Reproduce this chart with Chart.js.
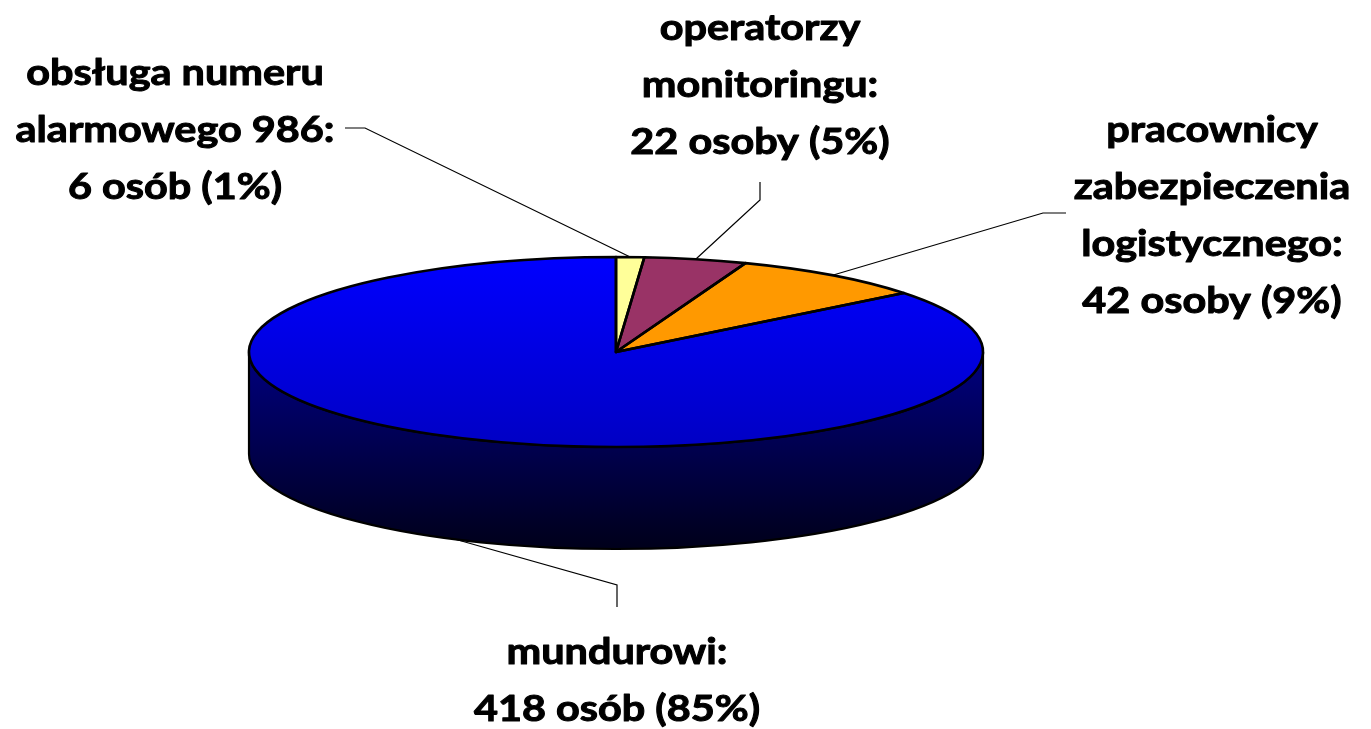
<!DOCTYPE html>
<html>
<head>
<meta charset="utf-8">
<script src="https://cdn.jsdelivr.net/npm/chart.js@4.4.0/dist/chart.umd.min.js"></script>
<style>
  body { margin: 0; background: #fff; }
  #wrap { width: 1371px; height: 729px; }
</style>
</head>
<body>
<div id="wrap"><canvas id="pieChart" width="1371" height="729"></canvas></div>
<script>
// data
const categories = ["obsługa numeru alarmowego 986", "operatorzy monitoringu", "pracownicy zabezpieczenia logistycznego", "mundurowi"];
const people = [6, 22, 42, 418];
const percents = [1, 5, 9, 85];
const units = ["osób", "osoby", "osoby", "osób"];
const nameLines = [
  ["obsługa numeru", "alarmowego 986:"],
  ["operatorzy", "monitoringu:"],
  ["pracownicy", "zabezpieczenia", "logistycznego:"],
  ["mundurowi:"],
];
const colors = ["#FFFF99", "#993366", "#FF9900", "#0000FF"];

// look of the fake 3d pie
const TILT = 95 / 367;
const DEPTH = 102;
const LINE_H = 57;
const TEXT_STRETCH = 1.15;

// where the labels sit (text centre, first line) and the leader elbow
const labelLayout = [
  { x: 175, y: 73, path: [[345, 128], [365, 128]] },
  { x: 760, y: 28, path: [[760, 182], [760, 200]] },
  { x: 1212, y: 130, path: [[1066, 213], [1043, 213]] },
  { x: 617, y: 652, path: [[617, 607], [617, 585]] },
];

function shadeSide(color, ctx, cy, ry) {
  const g = ctx.createLinearGradient(0, cy, 0, cy + ry + DEPTH);
  if (color === "#0000FF") {
    g.addColorStop(0, "#000080");
    g.addColorStop(1, "#00001a");
  } else {
    g.addColorStop(0, color);
    g.addColorStop(1, "#000000");
  }
  return g;
}

const pie3d = {
  id: "pie3d",
  beforeDatasetsDraw(chart) {
    const ctx = chart.ctx;
    const arcs = chart.getDatasetMeta(0).data;
    const { x: cx, y: cy, outerRadius: rx } = arcs[0];
    const ry = rx * TILT;

    // side wall, only the front half (angles 0..PI) is visible
    ctx.save();
    ctx.lineWidth = 2.2;
    ctx.strokeStyle = "#000";
    arcs.forEach((arc, i) => {
      const a0 = Math.max(arc.startAngle, 0);
      const a1 = Math.min(arc.endAngle, Math.PI);
      if (a1 <= a0) return;
      ctx.beginPath();
      ctx.ellipse(cx, cy, rx, ry, 0, a0, a1, false);
      ctx.ellipse(cx, cy + DEPTH, rx, ry, 0, a1, a0, true);
      ctx.closePath();
      ctx.fillStyle = shadeSide(colors[i], ctx, cy, ry);
      ctx.fill();
      ctx.stroke();
    });
    ctx.restore();

    // squash the pie itself
    ctx.save();
    ctx.translate(cx, cy);
    ctx.scale(1, TILT);
    ctx.translate(-cx, -cy);
  },
  afterDatasetsDraw(chart) {
    const ctx = chart.ctx;
    ctx.restore();

    const arcs = chart.getDatasetMeta(0).data;
    const { x: cx, y: cy, outerRadius: rx } = arcs[0];
    const ry = rx * TILT;

    // outlines of the top face
    ctx.save();
    ctx.lineWidth = 2.6;
    ctx.strokeStyle = "#000";
    ctx.lineJoin = "round";
    arcs.forEach((arc) => {
      ctx.beginPath();
      ctx.moveTo(cx, cy);
      ctx.ellipse(cx, cy, rx, ry, 0, arc.startAngle, arc.endAngle, false);
      ctx.closePath();
      ctx.stroke();
    });
    ctx.restore();
  },
  afterDraw(chart) {
    const ctx = chart.ctx;
    const arcs = chart.getDatasetMeta(0).data;
    const { x: cx, y: cy, outerRadius: rx } = arcs[0];
    const ry = rx * TILT;

    ctx.save();
    // leader lines
    ctx.strokeStyle = "#000";
    ctx.lineWidth = 1.2;
    arcs.forEach((arc, i) => {
      const mid = (arc.startAngle + arc.endAngle) / 2;
      const s = Math.sin(mid);
      const px = cx + rx * Math.cos(mid);
      const py = cy + ry * s + (s > 0 ? DEPTH : 0);
      const p = labelLayout[i].path;
      ctx.beginPath();
      ctx.moveTo(p[0][0], p[0][1]);
      ctx.lineTo(p[1][0], p[1][1]);
      ctx.lineTo(px, py);
      ctx.stroke();
    });

    // labels
    ctx.fillStyle = "#000";
    ctx.strokeStyle = "#000";
    ctx.lineWidth = 1;
    ctx.lineJoin = "round";
    ctx.font = "bold 36px Lato";
    ctx.textAlign = "center";
    ctx.textBaseline = "middle";
    people.forEach((v, i) => {
      const lines = nameLines[i].concat(`${v} ${units[i]} (${percents[i]}%)`);
      const L = labelLayout[i];
      lines.forEach((t, k) => {
        ctx.save();
        ctx.translate(L.x, L.y + k * LINE_H);
        ctx.scale(TEXT_STRETCH, 1);
        ctx.fillText(t, 0, 0);
        ctx.strokeText(t, 0, 0);
        ctx.restore();
      });
    });
    ctx.restore();
  },
};

new Chart(document.getElementById("pieChart"), {
  type: "pie",
  data: {
    labels: categories,
    datasets: [
      {
        data: people,
        borderWidth: 0,
        clip: false,
        backgroundColor(c) {
          const area = c.chart.chartArea;
          if (c.dataIndex !== 3 || !area) return colors[c.dataIndex];
          const cy = (area.top + area.bottom) / 2;
          const g = c.chart.ctx.createLinearGradient(0, cy - 367, 0, cy + 367);
          g.addColorStop(0, "#0000FF");
          g.addColorStop(1, "#0000C4");
          return g;
        },
      },
    ],
  },
  options: {
    responsive: false,
    animation: false,
    radius: 367,
    layout: { padding: { left: 0, right: 139, top: 0, bottom: 25 } },
    plugins: {
      legend: { display: false },
      tooltip: { enabled: false },
    },
  },
  plugins: [pie3d],
});
</script>
</body>
</html>
